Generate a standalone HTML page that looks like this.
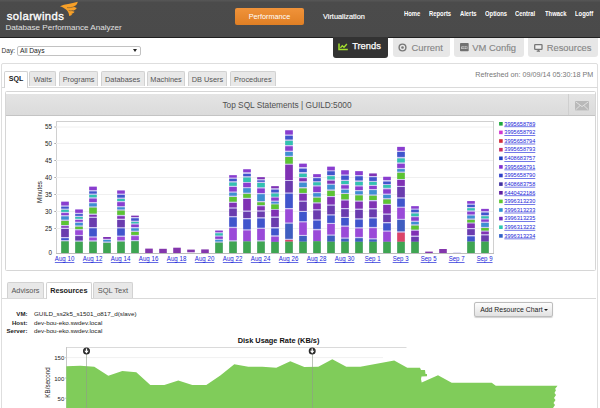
<!DOCTYPE html>
<html><head><meta charset="utf-8"><title>DPA</title>
<style>
html,body{margin:0;padding:0;}
body{width:600px;height:408px;overflow:hidden;background:#fff;font-family:"Liberation Sans",sans-serif;position:relative;}
.abs{position:absolute;}
.t{position:absolute;white-space:nowrap;line-height:1;}
#hdr{left:0;top:0;width:600px;height:37.8px;background:linear-gradient(#575757 0,#4b4b4b 2.5px,#4a4a4a 100%);box-sizing:border-box;border-bottom:1.8px solid #202020;}
.nav{color:#fff;font-weight:bold;font-size:6.7px;top:10.7px;transform:scaleX(0.875);transform-origin:0 50%;}
.tab1{position:absolute;top:71.4px;height:15px;border:1px solid #d2d2d2;border-bottom:none;background:#e8e8e8;border-radius:2px 2px 0 0;font-size:7.35px;color:#555;text-align:center;line-height:15px;box-sizing:border-box;}
.tab2{position:absolute;top:282.4px;height:15.6px;border:1px solid #d2d2d2;border-bottom:none;background:#e8e8e8;border-radius:2px 2px 0 0;font-size:7.3px;color:#555;text-align:center;line-height:15px;box-sizing:border-box;}
.btab{position:absolute;top:38.4px;height:19px;background:#e7e7e7;border-radius:0 0 3px 3px;color:#858585;-webkit-text-stroke:0.12px #858585;font-size:9.4px;line-height:19px;box-sizing:border-box;}
</style></head><body>
<div id="hdr" class="abs"></div>
<div class="t" style="left:6.7px;top:10.6px;font-size:11.3px;color:#fff;letter-spacing:0.43px;-webkit-text-stroke:0.35px #fff;">solarwinds</div>
<svg class="abs" style="left:0;top:0" width="90" height="20" viewBox="0 0 90 20"><path d="M60 6.3 C65 3.8 71 4 77.8 1.8 C77.4 4 76 5.8 73.6 6.8 L76.8 8 C75.6 9.8 74 10.6 72 10.9 L74.6 11.8 C73.6 13.2 72.4 13.8 71 14 L72.4 14.6 C71.4 15.4 70.4 15.8 69.2 15.9 C69 13.2 68 11.2 66 9.6 C64 8 62 7 60 6.3Z" fill="#f7a028"/><path d="M67 7.6 C69.5 7.9 72 7.6 74.5 6.4 M68.6 10.6 C70.2 10.9 71.6 10.8 73 10.4" stroke="#5a4a38" stroke-width="0.7" fill="none" opacity="0.75"/></svg>
<div class="t" style="left:5.5px;top:24px;font-size:8.08px;color:#e0e0e0;">Database Performance Analyzer</div>
<div class="abs" style="left:235px;top:8px;width:69px;height:17px;border-radius:2px;background:linear-gradient(#f0933a,#e07f24);color:#fff;font-size:7.25px;text-align:center;line-height:17px;">Performance</div>
<div class="t" style="left:323px;top:12.6px;font-size:7.35px;color:#fff;-webkit-text-stroke:0.15px #fff;">Virtualization</div>
<div class="t nav" style="left:403.6px;">Home</div>
<div class="t nav" style="left:428.6px;">Reports</div>
<div class="t nav" style="left:459.6px;">Alerts</div>
<div class="t nav" style="left:484.6px;">Options</div>
<div class="t nav" style="left:514.6px;">Central</div>
<div class="t nav" style="left:544.6px;">Thwack</div>
<div class="t nav" style="left:574.6px;">Logoff</div>

<div class="btab" style="left:333.2px;top:37px;height:20.7px;width:55px;background:#333;color:#fff;padding-left:19px;font-size:9.3px;-webkit-text-stroke:0.25px #fff;">Trends</div>
<svg class="abs" style="left:338.4px;top:43.2px" width="11" height="8" viewBox="0 0 11 8"><path d="M1 0.4V6.4H9.8" fill="none" stroke="#a2de2e" stroke-width="1.5"/><path d="M2.4 4.9L4.3 2.7 6 4.2 8.9 1" fill="none" stroke="#a2de2e" stroke-width="1.4"/></svg>
<div class="btab" style="left:393px;top:38.4px;height:19px;width:57px;padding-left:18.6px;">Current</div>
<svg class="abs" style="left:398.4px;top:43px" width="9" height="9" viewBox="0 0 9 9"><circle cx="4.5" cy="4.5" r="3.4" fill="none" stroke="#777" stroke-width="1.4"/><circle cx="4.5" cy="4.5" r="1.3" fill="#777"/></svg>
<div class="btab" style="left:454.1px;width:69.6px;padding-left:18.2px;">VM Config</div>
<svg class="abs" style="left:459.9px;top:43.4px" width="9" height="8.4" viewBox="0 0 9 8.4"><rect x="0" y="0" width="8.7" height="8.3" rx="0.8" fill="#707070"/><rect x="1.3" y="3.4" width="6.1" height="2.6" fill="#dcdcdc"/><path d="M2 3.6l1 2 1-2M4.6 5.8v-2l1 1.4 1-1.4v2" stroke="#707070" stroke-width="0.7" fill="none"/></svg>
<div class="btab" style="left:528px;width:70px;padding-left:18.7px;font-size:9.4px;">Resources</div>
<svg class="abs" style="left:534px;top:44.1px" width="9" height="8" viewBox="0 0 9 8"><rect x="0.7" y="0.7" width="7.3" height="4.6" rx="0.6" fill="#f0f0f0" stroke="#767676" stroke-width="1.3"/><path d="M4.35 5.6v1.2M2.7 7.1h3.3" stroke="#767676" stroke-width="1.1"/></svg>

<div class="t" style="left:1.6px;top:48px;font-size:6.6px;color:#333;">Day:</div>
<div class="abs" style="left:17px;top:45.7px;width:123.5px;height:10px;box-sizing:border-box;border:1px solid #c2c2c2;border-radius:2px;background:#fff;"></div>
<div class="t" style="left:20px;top:48px;font-size:6.7px;color:#222;">All Days</div>
<div class="abs" style="left:132.8px;top:49.3px;width:0;height:0;border-left:2px solid transparent;border-right:2px solid transparent;border-top:3px solid #222;"></div>

<div class="abs" style="left:1.2px;top:62.7px;width:597.3px;height:360px;box-sizing:border-box;border:1px solid #dedede;border-radius:2px;"></div>
<div class="abs" style="left:2px;top:86.7px;width:596px;height:1px;background:#dadada;"></div>
<div class="tab1" style="left:4px;width:24px;background:#fff;height:16.6px;color:#222;font-weight:bold;font-size:7.1px;">SQL</div>
<div class="tab1" style="left:29.4px;width:27px;">Waits</div>
<div class="tab1" style="left:58.8px;width:39.6px;">Programs</div>
<div class="tab1" style="left:100.6px;width:44px;">Databases</div>
<div class="tab1" style="left:146.9px;width:38.3px;">Machines</div>
<div class="tab1" style="left:187.8px;width:39.2px;">DB Users</div>
<div class="tab1" style="left:229.6px;width:46.4px;">Procedures</div>
<div class="t" style="right:6.8px;top:71.3px;font-size:7.2px;color:#777;">Refreshed on: 09/09/14 05:30:18 PM</div>

<div class="abs" style="left:5px;top:91px;width:591px;height:180px;box-sizing:border-box;border:1px solid #d6d6d6;border-radius:1.5px;"></div>
<div class="abs" style="left:6px;top:94px;width:589px;height:21.7px;background:linear-gradient(#e4e4e4,#dbdbdb);border-bottom:1px solid #c4c4c4;box-sizing:border-box;"></div>
<div class="abs" style="left:568px;top:94px;width:1px;height:21px;background:#cfcfcf;"></div>
<svg class="abs" style="left:575px;top:101px" width="14" height="10" viewBox="0 0 14 10"><rect width="14" height="9.4" fill="#b9b9b9"/><path d="M0.6 0.8L7 5.6 13.4 0.8M0.6 8.8L5 4.6M13.4 8.8L9 4.6" fill="none" stroke="#e4e4e4" stroke-width="0.9"/></svg>
<div class="t" style="left:0;width:574px;text-align:center;top:101.2px;font-size:8.3px;color:#505050;">Top SQL Statements | GUILD:5000</div>
<svg class="abs" style="left:0;top:0" width="600" height="408" viewBox="0 0 600 408">
<style>.ax{font:6.3px "Liberation Sans",sans-serif;fill:#222}.xl{font:6.8px "Liberation Sans",sans-serif;fill:#1a24d8;text-decoration:underline}.lg{font:6.1px "Liberation Sans",sans-serif;fill:#1a24d8;text-decoration:underline}</style>
<rect x="56.5" y="121.5" width="437" height="132" fill="#fff" stroke="#d0d0d0"/>
<line x1="56" x2="493" y1="127" y2="127" stroke="#f0f0f0" stroke-width="1"/><text x="52" y="129.2" text-anchor="end" class="ax">55</text><line x1="54.3" x2="56" y1="127" y2="127" stroke="#999" stroke-width="0.8"/><line x1="56" x2="493" y1="143.5" y2="143.5" stroke="#f0f0f0" stroke-width="1"/><text x="52" y="145.7" text-anchor="end" class="ax">50</text><line x1="54.3" x2="56" y1="143.5" y2="143.5" stroke="#999" stroke-width="0.8"/><line x1="56" x2="493" y1="160.5" y2="160.5" stroke="#f0f0f0" stroke-width="1"/><text x="52" y="162.7" text-anchor="end" class="ax">45</text><line x1="54.3" x2="56" y1="160.5" y2="160.5" stroke="#999" stroke-width="0.8"/><line x1="56" x2="493" y1="177.5" y2="177.5" stroke="#f0f0f0" stroke-width="1"/><text x="52" y="179.7" text-anchor="end" class="ax">40</text><line x1="54.3" x2="56" y1="177.5" y2="177.5" stroke="#999" stroke-width="0.8"/><line x1="56" x2="493" y1="194.5" y2="194.5" stroke="#f0f0f0" stroke-width="1"/><text x="52" y="196.7" text-anchor="end" class="ax">35</text><line x1="54.3" x2="56" y1="194.5" y2="194.5" stroke="#999" stroke-width="0.8"/><line x1="56" x2="493" y1="211.5" y2="211.5" stroke="#f0f0f0" stroke-width="1"/><text x="52" y="213.7" text-anchor="end" class="ax">30</text><line x1="54.3" x2="56" y1="211.5" y2="211.5" stroke="#999" stroke-width="0.8"/><line x1="56" x2="493" y1="228.5" y2="228.5" stroke="#f0f0f0" stroke-width="1"/><text x="52" y="230.7" text-anchor="end" class="ax">25</text><line x1="54.3" x2="56" y1="228.5" y2="228.5" stroke="#999" stroke-width="0.8"/><text x="52" y="255.2" text-anchor="end" class="ax">0</text>
<rect x="61.2" y="201.7" width="7.6" height="51.3" fill="#cfc8f2"/><rect x="61.2" y="201.7" width="7.6" height="3.7" fill="#8a3dcf"/><rect x="61.2" y="206.7" width="7.6" height="1.9" fill="#4055cc"/><rect x="61.2" y="209.8" width="7.6" height="2.1" fill="#33c2b0"/><rect x="61.2" y="213.1" width="7.6" height="2.0" fill="#8a3dcf"/><rect x="61.2" y="216.4" width="7.6" height="3.2" fill="#3f8fd2"/><rect x="61.2" y="220.9" width="7.6" height="4.1" fill="#5cc433"/><rect x="61.2" y="226.2" width="7.6" height="1.5" fill="#8032b4"/><rect x="61.2" y="229.0" width="7.6" height="8.0" fill="#6a3cae"/><rect x="61.2" y="238.2" width="7.6" height="1.9" fill="#4055cc"/><rect x="61.2" y="241.3" width="7.6" height="11.7" fill="#3fa552"/><rect x="75.2" y="209.5" width="7.6" height="43.5" fill="#cfc8f2"/><rect x="75.2" y="209.5" width="7.6" height="3.3" fill="#8a3dcf"/><rect x="75.2" y="214.1" width="7.6" height="1.7" fill="#4055cc"/><rect x="75.2" y="217.0" width="7.6" height="1.7" fill="#33c2b0"/><rect x="75.2" y="220.0" width="7.6" height="1.7" fill="#8a3dcf"/><rect x="75.2" y="222.9" width="7.6" height="2.5" fill="#3f8fd2"/><rect x="75.2" y="226.7" width="7.6" height="2.4" fill="#5cc433"/><rect x="75.2" y="230.3" width="7.6" height="4.6" fill="#9a4ad8"/><rect x="75.2" y="236.1" width="7.6" height="4.4" fill="#6a3cae"/><rect x="75.2" y="241.7" width="7.6" height="11.3" fill="#3fa552"/><rect x="89.2" y="186.7" width="7.6" height="66.3" fill="#cfc8f2"/><rect x="89.2" y="186.7" width="7.6" height="3.4" fill="#8a3dcf"/><rect x="89.2" y="191.4" width="7.6" height="2.2" fill="#4055cc"/><rect x="89.2" y="194.8" width="7.6" height="2.5" fill="#33c2b0"/><rect x="89.2" y="198.6" width="7.6" height="3.4" fill="#8a3dcf"/><rect x="89.2" y="203.3" width="7.6" height="3.1" fill="#3f8fd2"/><rect x="89.2" y="207.6" width="7.6" height="6.0" fill="#5cc433"/><rect x="89.2" y="214.9" width="7.6" height="1.8" fill="#8032b4"/><rect x="89.2" y="217.9" width="7.6" height="9.1" fill="#6a3cae"/><rect x="89.2" y="228.3" width="7.6" height="8.1" fill="#4055cc"/><rect x="89.2" y="237.6" width="7.6" height="2.7" fill="#9a4ad8"/><rect x="89.2" y="241.6" width="7.6" height="11.4" fill="#3fa552"/><rect x="103.2" y="237.0" width="7.6" height="16.0" fill="#cfc8f2"/><rect x="103.2" y="237.0" width="7.6" height="1.8" fill="#8032b4"/><rect x="103.2" y="240.0" width="7.6" height="1.5" fill="#3f8fd2"/><rect x="103.2" y="242.8" width="7.6" height="10.2" fill="#3fa552"/><rect x="117.2" y="190.5" width="7.6" height="62.5" fill="#cfc8f2"/><rect x="117.2" y="190.5" width="7.6" height="3.1" fill="#8a3dcf"/><rect x="117.2" y="194.9" width="7.6" height="2.7" fill="#4055cc"/><rect x="117.2" y="198.9" width="7.6" height="2.1" fill="#33c2b0"/><rect x="117.2" y="202.2" width="7.6" height="3.9" fill="#8a3dcf"/><rect x="117.2" y="207.3" width="7.6" height="2.1" fill="#3f8fd2"/><rect x="117.2" y="210.6" width="7.6" height="4.3" fill="#5cc433"/><rect x="117.2" y="216.2" width="7.6" height="2.5" fill="#8032b4"/><rect x="117.2" y="220.0" width="7.6" height="7.2" fill="#6a3cae"/><rect x="117.2" y="228.4" width="7.6" height="7.2" fill="#4055cc"/><rect x="117.2" y="236.9" width="7.6" height="3.4" fill="#9a4ad8"/><rect x="117.2" y="241.6" width="7.6" height="11.4" fill="#3fa552"/><rect x="131.2" y="215.7" width="7.6" height="37.3" fill="#cfc8f2"/><rect x="131.2" y="215.7" width="7.6" height="1.3" fill="#8032b4"/><rect x="131.2" y="218.3" width="7.6" height="2.4" fill="#4055cc"/><rect x="131.2" y="221.9" width="7.6" height="1.5" fill="#33c2b0"/><rect x="131.2" y="224.6" width="7.6" height="2.4" fill="#8a3dcf"/><rect x="131.2" y="228.3" width="7.6" height="2.4" fill="#3f8fd2"/><rect x="131.2" y="231.9" width="7.6" height="3.0" fill="#5cc433"/><rect x="131.2" y="236.2" width="7.6" height="3.8" fill="#9a4ad8"/><rect x="131.2" y="241.2" width="7.6" height="11.8" fill="#3fa552"/><rect x="145.2" y="248.6" width="7.6" height="4.4" fill="#8436ac"/><rect x="159.2" y="248.8" width="7.6" height="4.2" fill="#8436ac"/><rect x="173.2" y="247.7" width="7.6" height="5.3" fill="#8436ac"/><rect x="187.2" y="249.6" width="7.6" height="2.7" fill="#8436ac"/><rect x="201.2" y="249.4" width="7.6" height="3.6" fill="#8436ac"/><rect x="215.2" y="230.6" width="7.6" height="22.4" fill="#cfc8f2"/><rect x="215.2" y="230.6" width="7.6" height="1.6" fill="#8a3dcf"/><rect x="215.2" y="233.3" width="7.6" height="2.2" fill="#33c2b0"/><rect x="215.2" y="236.6" width="7.6" height="2.2" fill="#8a3dcf"/><rect x="215.2" y="239.9" width="7.6" height="1.6" fill="#3f8fd2"/><rect x="215.2" y="242.6" width="7.6" height="10.4" fill="#3fa552"/><rect x="229.2" y="175.2" width="7.6" height="77.8" fill="#cfc8f2"/><rect x="229.2" y="175.2" width="7.6" height="2.4" fill="#8a3dcf"/><rect x="229.2" y="178.8" width="7.6" height="2.4" fill="#4055cc"/><rect x="229.2" y="182.5" width="7.6" height="3.3" fill="#33c2b0"/><rect x="229.2" y="187.0" width="7.6" height="4.5" fill="#8a3dcf"/><rect x="229.2" y="192.7" width="7.6" height="3.0" fill="#3f8fd2"/><rect x="229.2" y="197.0" width="7.6" height="4.7" fill="#5cc433"/><rect x="229.2" y="202.9" width="7.6" height="4.5" fill="#8032b4"/><rect x="229.2" y="208.6" width="7.6" height="7.5" fill="#6a3cae"/><rect x="229.2" y="217.3" width="7.6" height="9.5" fill="#4055cc"/><rect x="229.2" y="228.1" width="7.6" height="12.1" fill="#9a4ad8"/><rect x="229.2" y="241.5" width="7.6" height="11.5" fill="#3fa552"/><rect x="243.2" y="169.3" width="7.6" height="83.7" fill="#cfc8f2"/><rect x="243.2" y="169.3" width="7.6" height="2.9" fill="#8a3dcf"/><rect x="243.2" y="173.9" width="7.6" height="2.3" fill="#4055cc"/><rect x="243.2" y="177.5" width="7.6" height="4.5" fill="#33c2b0"/><rect x="243.2" y="182.9" width="7.6" height="4.2" fill="#8a3dcf"/><rect x="243.2" y="188.2" width="7.6" height="4.5" fill="#3f8fd2"/><rect x="243.2" y="193.9" width="7.6" height="3.9" fill="#5cc433"/><rect x="243.2" y="199.0" width="7.6" height="11.5" fill="#8032b4"/><rect x="243.2" y="211.8" width="7.6" height="6.2" fill="#6a3cae"/><rect x="243.2" y="219.3" width="7.6" height="10.0" fill="#4055cc"/><rect x="243.2" y="230.5" width="7.6" height="10.9" fill="#9a4ad8"/><rect x="243.2" y="241.4" width="7.6" height="11.6" fill="#3fa552"/><rect x="257.2" y="177.2" width="7.6" height="75.8" fill="#cfc8f2"/><rect x="257.2" y="177.2" width="7.6" height="1.9" fill="#8032b4"/><rect x="257.2" y="180.4" width="7.6" height="1.4" fill="#4055cc"/><rect x="257.2" y="183.0" width="7.6" height="4.2" fill="#33c2b0"/><rect x="257.2" y="188.5" width="7.6" height="4.5" fill="#8a3dcf"/><rect x="257.2" y="194.2" width="7.6" height="6.8" fill="#3f8fd2"/><rect x="257.2" y="202.3" width="7.6" height="2.8" fill="#5cc433"/><rect x="257.2" y="206.3" width="7.6" height="4.0" fill="#8032b4"/><rect x="257.2" y="211.6" width="7.6" height="5.6" fill="#6a3cae"/><rect x="257.2" y="218.5" width="7.6" height="9.2" fill="#4055cc"/><rect x="257.2" y="228.9" width="7.6" height="11.3" fill="#9a4ad8"/><rect x="257.2" y="241.5" width="7.6" height="11.5" fill="#3fa552"/><rect x="271.2" y="186.2" width="7.6" height="66.8" fill="#cfc8f2"/><rect x="271.2" y="186.2" width="7.6" height="2.0" fill="#8032b4"/><rect x="271.2" y="189.7" width="7.6" height="2.7" fill="#4055cc"/><rect x="271.2" y="193.5" width="7.6" height="3.2" fill="#33c2b0"/><rect x="271.2" y="197.6" width="7.6" height="3.0" fill="#8a3dcf"/><rect x="271.2" y="201.8" width="7.6" height="1.7" fill="#3f8fd2"/><rect x="271.2" y="204.4" width="7.6" height="4.7" fill="#5cc433"/><rect x="271.2" y="209.9" width="7.6" height="6.6" fill="#8032b4"/><rect x="271.2" y="217.9" width="7.6" height="9.1" fill="#6a3cae"/><rect x="271.2" y="228.5" width="7.6" height="6.8" fill="#4055cc"/><rect x="271.2" y="236.7" width="7.6" height="5.2" fill="#9a4ad8"/><rect x="271.2" y="241.9" width="7.6" height="11.1" fill="#3fa552"/><rect x="285.2" y="130.3" width="7.6" height="122.7" fill="#cfc8f2"/><rect x="285.2" y="130.3" width="7.6" height="4.2" fill="#8a3dcf"/><rect x="285.2" y="135.8" width="7.6" height="3.7" fill="#4055cc"/><rect x="285.2" y="140.8" width="7.6" height="4.2" fill="#33c2b0"/><rect x="285.2" y="146.3" width="7.6" height="4.4" fill="#8a3dcf"/><rect x="285.2" y="152.0" width="7.6" height="3.8" fill="#3f8fd2"/><rect x="285.2" y="157.0" width="7.6" height="6.7" fill="#5cc433"/><rect x="285.2" y="164.8" width="7.6" height="15.2" fill="#8032b4"/><rect x="285.2" y="181.0" width="7.6" height="11.5" fill="#6a3cae"/><rect x="285.2" y="193.7" width="7.6" height="14.3" fill="#4055cc"/><rect x="285.2" y="209.3" width="7.6" height="13.2" fill="#9a4ad8"/><rect x="285.2" y="223.7" width="7.6" height="15.1" fill="#3f5ec0"/><rect x="285.2" y="239.9" width="7.6" height="1.8" fill="#dc4468"/><rect x="285.2" y="241.7" width="7.6" height="11.3" fill="#3fa552"/><rect x="299.2" y="163.7" width="7.6" height="89.3" fill="#cfc8f2"/><rect x="299.2" y="163.7" width="7.6" height="3.3" fill="#8a3dcf"/><rect x="299.2" y="168.7" width="7.6" height="3.3" fill="#4055cc"/><rect x="299.2" y="173.7" width="7.6" height="3.3" fill="#33c2b0"/><rect x="299.2" y="178.2" width="7.6" height="3.0" fill="#8032b4"/><rect x="299.2" y="182.7" width="7.6" height="4.3" fill="#3f8fd2"/><rect x="299.2" y="188.4" width="7.6" height="4.5" fill="#5cc433"/><rect x="299.2" y="193.9" width="7.6" height="6.7" fill="#8032b4"/><rect x="299.2" y="201.8" width="7.6" height="9.1" fill="#6a3cae"/><rect x="299.2" y="212.0" width="7.6" height="9.2" fill="#4055cc"/><rect x="299.2" y="222.4" width="7.6" height="12.5" fill="#9a4ad8"/><rect x="299.2" y="236.0" width="7.6" height="5.7" fill="#3f5ec0"/><rect x="299.2" y="241.7" width="7.6" height="11.3" fill="#3fa552"/><rect x="313.2" y="174.2" width="7.6" height="78.8" fill="#cfc8f2"/><rect x="313.2" y="174.2" width="7.6" height="2.8" fill="#8a3dcf"/><rect x="313.2" y="178.2" width="7.6" height="3.0" fill="#4055cc"/><rect x="313.2" y="182.3" width="7.6" height="3.0" fill="#33c2b0"/><rect x="313.2" y="186.5" width="7.6" height="5.5" fill="#8a3dcf"/><rect x="313.2" y="193.2" width="7.6" height="3.4" fill="#3f8fd2"/><rect x="313.2" y="197.7" width="7.6" height="4.6" fill="#5cc433"/><rect x="313.2" y="203.5" width="7.6" height="5.7" fill="#8032b4"/><rect x="313.2" y="210.4" width="7.6" height="9.0" fill="#6a3cae"/><rect x="313.2" y="220.6" width="7.6" height="8.3" fill="#4055cc"/><rect x="313.2" y="230.3" width="7.6" height="10.9" fill="#9a4ad8"/><rect x="313.2" y="241.2" width="7.6" height="11.8" fill="#3fa552"/><rect x="327.2" y="166.7" width="7.6" height="86.3" fill="#cfc8f2"/><rect x="327.2" y="166.7" width="7.6" height="3.6" fill="#8a3dcf"/><rect x="327.2" y="171.3" width="7.6" height="3.7" fill="#4055cc"/><rect x="327.2" y="176.2" width="7.6" height="3.3" fill="#33c2b0"/><rect x="327.2" y="180.7" width="7.6" height="3.0" fill="#8032b4"/><rect x="327.2" y="184.8" width="7.6" height="4.6" fill="#3f8fd2"/><rect x="327.2" y="190.8" width="7.6" height="5.2" fill="#5cc433"/><rect x="327.2" y="197.1" width="7.6" height="7.4" fill="#8032b4"/><rect x="327.2" y="205.7" width="7.6" height="8.6" fill="#6a3cae"/><rect x="327.2" y="215.5" width="7.6" height="7.4" fill="#4055cc"/><rect x="327.2" y="224.0" width="7.6" height="10.5" fill="#9a4ad8"/><rect x="327.2" y="235.7" width="7.6" height="6.0" fill="#3f5ec0"/><rect x="327.2" y="241.7" width="7.6" height="11.3" fill="#3fa552"/><rect x="341.2" y="170.3" width="7.6" height="82.7" fill="#cfc8f2"/><rect x="341.2" y="170.3" width="7.6" height="4.2" fill="#8a3dcf"/><rect x="341.2" y="175.7" width="7.6" height="4.1" fill="#4055cc"/><rect x="341.2" y="181.0" width="7.6" height="3.0" fill="#33c2b0"/><rect x="341.2" y="185.3" width="7.6" height="3.3" fill="#8a3dcf"/><rect x="341.2" y="189.8" width="7.6" height="3.1" fill="#3f8fd2"/><rect x="341.2" y="194.0" width="7.6" height="5.4" fill="#5cc433"/><rect x="341.2" y="200.6" width="7.6" height="7.4" fill="#8032b4"/><rect x="341.2" y="209.2" width="7.6" height="7.7" fill="#6a3cae"/><rect x="341.2" y="218.0" width="7.6" height="7.5" fill="#4055cc"/><rect x="341.2" y="226.8" width="7.6" height="10.7" fill="#9a4ad8"/><rect x="341.2" y="238.7" width="7.6" height="3.0" fill="#3f5ec0"/><rect x="341.2" y="241.7" width="7.6" height="11.3" fill="#3fa552"/><rect x="355.2" y="171.2" width="7.6" height="81.8" fill="#cfc8f2"/><rect x="355.2" y="171.2" width="7.6" height="3.8" fill="#8a3dcf"/><rect x="355.2" y="176.3" width="7.6" height="4.1" fill="#4055cc"/><rect x="355.2" y="181.9" width="7.6" height="3.4" fill="#33c2b0"/><rect x="355.2" y="186.5" width="7.6" height="3.5" fill="#8a3dcf"/><rect x="355.2" y="191.2" width="7.6" height="3.1" fill="#3f8fd2"/><rect x="355.2" y="195.4" width="7.6" height="5.1" fill="#5cc433"/><rect x="355.2" y="201.7" width="7.6" height="6.9" fill="#8032b4"/><rect x="355.2" y="209.9" width="7.6" height="8.4" fill="#6a3cae"/><rect x="355.2" y="219.6" width="7.6" height="7.6" fill="#4055cc"/><rect x="355.2" y="228.5" width="7.6" height="8.4" fill="#9a4ad8"/><rect x="355.2" y="238.2" width="7.6" height="3.6" fill="#3f5ec0"/><rect x="355.2" y="241.8" width="7.6" height="11.2" fill="#3fa552"/><rect x="369.2" y="173.5" width="7.6" height="79.5" fill="#cfc8f2"/><rect x="369.2" y="173.5" width="7.6" height="2.5" fill="#8032b4"/><rect x="369.2" y="177.2" width="7.6" height="3.7" fill="#4055cc"/><rect x="369.2" y="181.9" width="7.6" height="3.0" fill="#33c2b0"/><rect x="369.2" y="186.0" width="7.6" height="3.0" fill="#8a3dcf"/><rect x="369.2" y="190.1" width="7.6" height="4.4" fill="#3f8fd2"/><rect x="369.2" y="195.7" width="7.6" height="4.3" fill="#5cc433"/><rect x="369.2" y="201.3" width="7.6" height="6.8" fill="#8032b4"/><rect x="369.2" y="209.4" width="7.6" height="7.8" fill="#6a3cae"/><rect x="369.2" y="218.5" width="7.6" height="8.4" fill="#4055cc"/><rect x="369.2" y="228.2" width="7.6" height="10.0" fill="#9a4ad8"/><rect x="369.2" y="239.4" width="7.6" height="2.4" fill="#3f5ec0"/><rect x="369.2" y="241.8" width="7.6" height="11.2" fill="#3fa552"/><rect x="383.2" y="176.8" width="7.6" height="76.2" fill="#cfc8f2"/><rect x="383.2" y="176.8" width="7.6" height="3.2" fill="#8a3dcf"/><rect x="383.2" y="181.6" width="7.6" height="2.5" fill="#4055cc"/><rect x="383.2" y="185.0" width="7.6" height="2.8" fill="#33c2b0"/><rect x="383.2" y="189.3" width="7.6" height="4.3" fill="#8a3dcf"/><rect x="383.2" y="194.9" width="7.6" height="3.2" fill="#3f8fd2"/><rect x="383.2" y="199.4" width="7.6" height="4.4" fill="#5cc433"/><rect x="383.2" y="205.0" width="7.6" height="8.5" fill="#8032b4"/><rect x="383.2" y="214.8" width="7.6" height="7.2" fill="#6a3cae"/><rect x="383.2" y="223.3" width="7.6" height="7.2" fill="#4055cc"/><rect x="383.2" y="231.7" width="7.6" height="10.1" fill="#9a4ad8"/><rect x="383.2" y="241.8" width="7.6" height="11.2" fill="#3fa552"/><rect x="397.2" y="146.9" width="7.6" height="106.1" fill="#cfc8f2"/><rect x="397.2" y="146.9" width="7.6" height="3.8" fill="#8a3dcf"/><rect x="397.2" y="152.0" width="7.6" height="4.9" fill="#4055cc"/><rect x="397.2" y="158.4" width="7.6" height="4.0" fill="#33c2b0"/><rect x="397.2" y="163.8" width="7.6" height="4.1" fill="#8a3dcf"/><rect x="397.2" y="169.1" width="7.6" height="2.5" fill="#3f8fd2"/><rect x="397.2" y="172.8" width="7.6" height="6.2" fill="#5cc433"/><rect x="397.2" y="180.0" width="7.6" height="5.9" fill="#8032b4"/><rect x="397.2" y="187.0" width="7.6" height="10.3" fill="#6a3cae"/><rect x="397.2" y="198.6" width="7.6" height="8.1" fill="#4055cc"/><rect x="397.2" y="207.8" width="7.6" height="11.0" fill="#9a4ad8"/><rect x="397.2" y="219.9" width="7.6" height="11.4" fill="#3f5ec0"/><rect x="397.2" y="232.6" width="7.6" height="9.2" fill="#dc4468"/><rect x="397.2" y="241.8" width="7.6" height="11.2" fill="#3fa552"/><rect x="411.2" y="206.2" width="7.6" height="46.8" fill="#cfc8f2"/><rect x="411.2" y="206.2" width="7.6" height="2.4" fill="#8a3dcf"/><rect x="411.2" y="209.7" width="7.6" height="2.5" fill="#4055cc"/><rect x="411.2" y="213.5" width="7.6" height="2.7" fill="#33c2b0"/><rect x="411.2" y="217.2" width="7.6" height="3.5" fill="#8a3dcf"/><rect x="411.2" y="221.9" width="7.6" height="2.4" fill="#3f8fd2"/><rect x="411.2" y="225.6" width="7.6" height="4.0" fill="#5cc433"/><rect x="411.2" y="230.8" width="7.6" height="4.8" fill="#8032b4"/><rect x="411.2" y="236.9" width="7.6" height="4.9" fill="#6a3cae"/><rect x="411.2" y="241.8" width="7.6" height="11.2" fill="#3fa552"/><rect x="425.2" y="251.6" width="7.6" height="1.4" fill="#8436ac"/><rect x="439.2" y="249.0" width="7.6" height="4.0" fill="#8436ac"/><rect x="453.2" y="252.4" width="7.6" height="0.6" fill="#cfc8f2"/><rect x="467.2" y="201.1" width="7.6" height="51.9" fill="#cfc8f2"/><rect x="467.2" y="201.1" width="7.6" height="2.5" fill="#8a3dcf"/><rect x="467.2" y="204.8" width="7.6" height="2.2" fill="#4055cc"/><rect x="467.2" y="208.2" width="7.6" height="2.2" fill="#33c2b0"/><rect x="467.2" y="211.7" width="7.6" height="2.7" fill="#8a3dcf"/><rect x="467.2" y="215.6" width="7.6" height="2.9" fill="#3f8fd2"/><rect x="467.2" y="219.8" width="7.6" height="2.7" fill="#5cc433"/><rect x="467.2" y="223.5" width="7.6" height="4.5" fill="#8032b4"/><rect x="467.2" y="229.2" width="7.6" height="5.8" fill="#6a3cae"/><rect x="467.2" y="236.4" width="7.6" height="5.2" fill="#4055cc"/><rect x="467.2" y="241.6" width="7.6" height="11.4" fill="#3fa552"/><rect x="481.2" y="208.9" width="7.6" height="44.1" fill="#cfc8f2"/><rect x="481.2" y="208.9" width="7.6" height="2.2" fill="#8a3dcf"/><rect x="481.2" y="212.6" width="7.6" height="2.5" fill="#4055cc"/><rect x="481.2" y="216.3" width="7.6" height="2.1" fill="#33c2b0"/><rect x="481.2" y="219.5" width="7.6" height="2.2" fill="#8a3dcf"/><rect x="481.2" y="222.9" width="7.6" height="4.0" fill="#3f8fd2"/><rect x="481.2" y="228.0" width="7.6" height="2.6" fill="#5cc433"/><rect x="481.2" y="231.6" width="7.6" height="2.6" fill="#8032b4"/><rect x="481.2" y="235.4" width="7.6" height="6.2" fill="#6a3cae"/><rect x="481.2" y="241.6" width="7.6" height="11.4" fill="#3fa552"/>
<line x1="56" x2="494" y1="253.5" y2="253.5" stroke="#bdbdbd"/>
<text x="64.6" y="261" text-anchor="middle" class="xl" textLength="19.5" lengthAdjust="spacingAndGlyphs">Aug 10</text><text x="92.6" y="261" text-anchor="middle" class="xl" textLength="19.5" lengthAdjust="spacingAndGlyphs">Aug 12</text><text x="120.6" y="261" text-anchor="middle" class="xl" textLength="19.5" lengthAdjust="spacingAndGlyphs">Aug 14</text><text x="148.6" y="261" text-anchor="middle" class="xl" textLength="19.5" lengthAdjust="spacingAndGlyphs">Aug 16</text><text x="176.6" y="261" text-anchor="middle" class="xl" textLength="19.5" lengthAdjust="spacingAndGlyphs">Aug 18</text><text x="204.6" y="261" text-anchor="middle" class="xl" textLength="19.5" lengthAdjust="spacingAndGlyphs">Aug 20</text><text x="232.6" y="261" text-anchor="middle" class="xl" textLength="19.5" lengthAdjust="spacingAndGlyphs">Aug 22</text><text x="260.6" y="261" text-anchor="middle" class="xl" textLength="19.5" lengthAdjust="spacingAndGlyphs">Aug 24</text><text x="288.6" y="261" text-anchor="middle" class="xl" textLength="19.5" lengthAdjust="spacingAndGlyphs">Aug 26</text><text x="316.6" y="261" text-anchor="middle" class="xl" textLength="19.5" lengthAdjust="spacingAndGlyphs">Aug 28</text><text x="344.6" y="261" text-anchor="middle" class="xl" textLength="19.5" lengthAdjust="spacingAndGlyphs">Aug 30</text><text x="372.6" y="261" text-anchor="middle" class="xl" textLength="15.9" lengthAdjust="spacingAndGlyphs">Sep 1</text><text x="400.6" y="261" text-anchor="middle" class="xl" textLength="15.9" lengthAdjust="spacingAndGlyphs">Sep 3</text><text x="428.6" y="261" text-anchor="middle" class="xl" textLength="15.9" lengthAdjust="spacingAndGlyphs">Sep 5</text><text x="456.6" y="261" text-anchor="middle" class="xl" textLength="15.9" lengthAdjust="spacingAndGlyphs">Sep 7</text><text x="484.6" y="261" text-anchor="middle" class="xl" textLength="15.9" lengthAdjust="spacingAndGlyphs">Sep 9</text>
<text transform="translate(42,192) rotate(-90)" text-anchor="middle" class="ax">Minutes</text>
<rect x="499.1" y="122.0" width="3.6" height="3.6" fill="#1ea83c"/><text x="504.3" y="125.5" class="lg" textLength="31" lengthAdjust="spacingAndGlyphs">3995658789</text><rect x="499.1" y="130.6" width="3.6" height="3.6" fill="#d038d0"/><text x="504.3" y="134.1" class="lg" textLength="31" lengthAdjust="spacingAndGlyphs">3995658792</text><rect x="499.1" y="139.2" width="3.6" height="3.6" fill="#d02c38"/><text x="504.3" y="142.7" class="lg" textLength="31" lengthAdjust="spacingAndGlyphs">3995658794</text><rect x="499.1" y="147.9" width="3.6" height="3.6" fill="#c83060"/><text x="504.3" y="151.4" class="lg" textLength="31" lengthAdjust="spacingAndGlyphs">3995658793</text><rect x="499.1" y="156.5" width="3.6" height="3.6" fill="#2040c0"/><text x="504.3" y="160.0" class="lg" textLength="31" lengthAdjust="spacingAndGlyphs">6408683757</text><rect x="499.1" y="165.1" width="3.6" height="3.6" fill="#8030d0"/><text x="504.3" y="168.6" class="lg" textLength="31" lengthAdjust="spacingAndGlyphs">3995658791</text><rect x="499.1" y="173.7" width="3.6" height="3.6" fill="#3040c8"/><text x="504.3" y="177.2" class="lg" textLength="31" lengthAdjust="spacingAndGlyphs">3995658790</text><rect x="499.1" y="182.3" width="3.6" height="3.6" fill="#4030a0"/><text x="504.3" y="185.8" class="lg" textLength="31" lengthAdjust="spacingAndGlyphs">6408683758</text><rect x="499.1" y="191.0" width="3.6" height="3.6" fill="#6020a0"/><text x="504.3" y="194.5" class="lg" textLength="31" lengthAdjust="spacingAndGlyphs">6440422186</text><rect x="499.1" y="199.6" width="3.6" height="3.6" fill="#60c830"/><text x="504.3" y="203.1" class="lg" textLength="31" lengthAdjust="spacingAndGlyphs">3996313230</text><rect x="499.1" y="208.2" width="3.6" height="3.6" fill="#3090d0"/><text x="504.3" y="211.7" class="lg" textLength="31" lengthAdjust="spacingAndGlyphs">3996313233</text><rect x="499.1" y="216.8" width="3.6" height="3.6" fill="#7030c0"/><text x="504.3" y="220.3" class="lg" textLength="31" lengthAdjust="spacingAndGlyphs">3996313235</text><rect x="499.1" y="225.4" width="3.6" height="3.6" fill="#30c8b0"/><text x="504.3" y="228.9" class="lg" textLength="31" lengthAdjust="spacingAndGlyphs">3996313232</text><rect x="499.1" y="234.1" width="3.6" height="3.6" fill="#3060c8"/><text x="504.3" y="237.6" class="lg" textLength="31" lengthAdjust="spacingAndGlyphs">3996313234</text>
</svg>

<div class="abs" style="left:2px;top:297.8px;width:594px;height:1px;background:#d9d9d9;"></div>
<div class="tab2" style="left:7px;width:37px;">Advisors</div>
<div class="tab2" style="left:46px;top:282px;height:17px;line-height:16px;width:45.6px;background:#fff;color:#222;font-weight:bold;">Resources</div>
<div class="tab2" style="left:93px;width:39.8px;font-size:7.5px;">SQL Text</div>

<div class="t" style="left:0;width:27.5px;text-align:right;top:311.3px;font-size:6.1px;font-weight:bold;color:#222;">VM:</div>
<div class="t" style="left:0;width:27.5px;text-align:right;top:319.9px;font-size:6.1px;font-weight:bold;color:#222;">Host:</div>
<div class="t" style="left:0;width:27.5px;text-align:right;top:328.4px;font-size:6.1px;font-weight:bold;color:#222;">Server:</div>
<div class="t" style="left:34px;top:311.2px;font-size:6.25px;color:#222;">GUILD_ss2k5_s1501_o817_d(slave)</div>
<div class="t" style="left:34px;top:319.8px;font-size:6.25px;color:#222;">dev-bou-eko.swdev.local</div>
<div class="t" style="left:34px;top:328.3px;font-size:6.25px;color:#222;">dev-bou-eko.swdev.local</div>

<div class="abs" style="left:474.2px;top:302.3px;width:79.2px;height:15.2px;box-sizing:border-box;border:1px solid #bdbdbd;border-radius:2px;background:linear-gradient(#fdfdfd,#e2e2e2);box-shadow:0 0.5px 1px rgba(0,0,0,.18);"></div><div class="t" style="left:480.2px;top:306.5px;font-size:6.9px;color:#222;">Add Resource Chart</div><div class="abs" style="left:544.2px;top:308.9px;width:0;height:0;border-left:2.4px solid transparent;border-right:2.4px solid transparent;border-top:2.8px solid #1a1a1a;"></div>
<svg class="abs" style="left:0;top:0" width="600" height="408" viewBox="0 0 600 408">
<line x1="66.5" x2="406.5" y1="347.5" y2="347.5" stroke="#dadada"/>
<line x1="66.5" x2="66.5" y1="347" y2="408" stroke="#c8c8c8"/>
<line x1="66.5" x2="383" y1="357.6" y2="357.6" stroke="#f1f1f1"/><line x1="65.2" x2="66.5" y1="357.7" y2="357.7" stroke="#aaa" stroke-width="0.8"/><line x1="65.2" x2="66.5" y1="378" y2="378" stroke="#aaa" stroke-width="0.8"/><line x1="65.2" x2="66.5" y1="398.2" y2="398.2" stroke="#aaa" stroke-width="0.8"/>
<polygon points="66.3,366.3 80.3,365.7 94.3,366.7 108.3,375.8 122.3,371 136.3,372.2 150.3,385 164.3,385 178.3,380.5 192.3,385 206.3,385 220.3,375.5 234.3,364.2 248.3,366.7 262.3,366.7 276.3,367.8 290.3,361.2 304.3,367 318.3,366.7 332.3,359.2 346.3,366.7 360.3,366.7 394.2,360.5 407.3,367.8 420,367.8 421,370 425,370 425.5,374 427,374 427,376.3 421.5,376.5 421,379 421.7,382.5 438,375.3 451.7,382.8 491.7,382.8 495.8,385.8 557.5,385.8 555,389 556,390 554.5,393 556,395 554,398 555.5,400 553.5,403 555,405 553,408 66.3,408" fill="#80cc5a"/>
<line x1="86.5" x2="86.5" y1="352" y2="408" stroke="#8f9c8a" stroke-width="0.7" opacity="0.85"/>
<line x1="312.5" x2="312.5" y1="352" y2="408" stroke="#8f9c8a" stroke-width="0.7" opacity="0.85"/>
<g><circle cx="86.5" cy="351" r="3.5" fill="#2b2b2b"/><path d="M85.85 348.5h1.3v2.3h1.6L86.5 353.4L84.25 350.8h1.6z" fill="#fff"/></g><g><circle cx="312.2" cy="351" r="3.5" fill="#2b2b2b"/><path d="M311.55 348.5h1.3v2.3h1.6L312.2 353.4L309.95 350.8h1.6z" fill="#fff"/></g>
<text x="64.3" y="360.2" text-anchor="end" style="font:6.05px 'Liberation Sans',sans-serif;fill:#222">150</text>
<text x="64.3" y="380.5" text-anchor="end" style="font:6.05px 'Liberation Sans',sans-serif;fill:#222">100</text>
<text x="64.3" y="400.5" text-anchor="end" style="font:6.05px 'Liberation Sans',sans-serif;fill:#222">50</text>
<text transform="translate(49.7,382.5) rotate(-90)" text-anchor="middle" style="font:6.3px 'Liberation Sans',sans-serif;fill:#222">KB/second</text>
<text x="278.5" y="343" text-anchor="middle" style="font:bold 7.4px 'Liberation Sans',sans-serif;fill:#111">Disk Usage Rate (KB/s)</text>
</svg>
</body></html>
